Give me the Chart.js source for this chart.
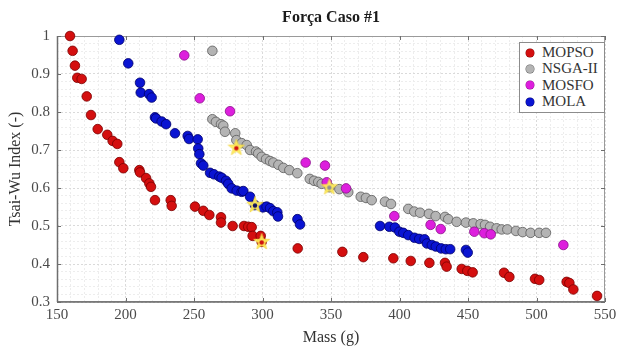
<!DOCTYPE html>
<html><head><meta charset="utf-8">
<script src="https://cdn.jsdelivr.net/npm/chart.js@4.4.1/dist/chart.umd.min.js"></script>
<style>
html,body{margin:0;padding:0;background:#fff;}
#wrap{position:relative;width:621px;height:347px;}
#legend{position:absolute;left:519px;top:42px;width:86px;height:71px;border:1px solid #8c8c8c;background:#fff;box-sizing:border-box;padding:1px 0 0 6px;font-family:"Liberation Serif",serif;font-size:15px;color:#333;}
#legend .row{height:16.4px;line-height:16.4px;white-space:nowrap;}
#legend .dot{display:inline-block;width:8px;height:8px;border-radius:50%;margin-right:8px;vertical-align:middle;position:relative;top:-1px;}
</style></head>
<body>
<div id="wrap">
  <canvas id="c" width="621" height="347"></canvas>
  <div id="legend"></div>
</div>
<script>
// Pareto fronts, force case #1: [mass (g), Tsai-Wu index]
const MOPSO = [[159.5,1.000],[161.4,0.961],[163.1,0.922],[164.8,0.890],[168.0,0.887],[171.7,0.841],[174.8,0.792],[179.7,0.755],
  [186.7,0.740],[190.6,0.724],[194.0,0.716],[195.5,0.668],[198.4,0.652],[210.1,0.647],[210.6,0.641],[215.0,0.626],[217.4,0.612],
  [218.6,0.603],[221.5,0.568],[233.0,0.568],[233.7,0.553],[250.7,0.551],[256.8,0.540],[261.2,0.529],[269.7,0.523],[269.7,0.509],
  [278.2,0.500],[286.5,0.500],[289.6,0.498],[292.1,0.497],[292.8,0.474],[298.7,0.474],[299.4,0.458],[325.7,0.441],[358.3,0.432],
  [373.6,0.418],[395.5,0.415],[408.2,0.408],[421.8,0.403],[433.2,0.403],[434.4,0.393],[445.4,0.387],[449.5,0.382],[453.4,0.378],
  [476.3,0.377],[480.2,0.366],[498.9,0.361],[502.0,0.358],[522.0,0.353],[524.0,0.350],[526.9,0.333],[544.2,0.316]];
const NSGA2 = [[263.4,0.961],[263.4,0.781],[266.0,0.774],[269.7,0.768],[271.4,0.764],[272.6,0.748],[280.1,0.744],[280.9,0.726],
  [284.8,0.718],[288.5,0.713],[290.9,0.700],[295.3,0.696],[296.9,0.691],[299.4,0.682],[302.6,0.676],[305.5,0.671],[307.9,0.667],
  [311.6,0.661],[315.2,0.653],[319.6,0.647],[325.4,0.639],[334.5,0.624],[337.6,0.619],[340.7,0.616],[343.2,0.611],[348.8,0.602],
  [356.1,0.597],[362.6,0.589],[371.7,0.577],[375.5,0.574],[379.7,0.568],[389.4,0.564],[393.8,0.558],[406.4,0.545],[410.8,0.538],
  [415.0,0.535],[421.5,0.532],[426.4,0.526],[433.2,0.524],[435.6,0.518],[441.7,0.511],[448.5,0.509],[453.9,0.507],[459.2,0.505],
  [462.4,0.503],[466.1,0.498],[470.9,0.494],[474.6,0.491],[478.7,0.491],[485.0,0.487],[489.9,0.484],[495.7,0.482],[502.0,0.482],
  [506.9,0.482]];
const MOSFO = [[242.9,0.949],[254.2,0.836],[276.3,0.802],[331.5,0.667],[345.6,0.659],[346.9,0.615],[361.0,0.599],[396.2,0.526],
  [422.7,0.503],[430.1,0.492],[454.6,0.485],[461.9,0.481],[466.6,0.478],[519.6,0.450]];
const MOLA = [[195.5,0.990],[202.0,0.928],[210.6,0.877],[211.1,0.851],[217.2,0.847],[219.1,0.838],[221.5,0.786],[222.3,0.783],
  [226.4,0.775],[229.6,0.768],[236.1,0.744],[245.4,0.737],[246.4,0.729],[252.7,0.728],[253.1,0.704],[253.9,0.689],[255.1,0.665],
  [256.8,0.659],[261.7,0.640],[264.6,0.636],[268.5,0.630],[270.2,0.627],[273.4,0.619],[275.0,0.611],[277.5,0.599],[281.2,0.593],
  [284.8,0.590],[286.0,0.592],[290.9,0.577],[294.5,0.555],[300.3,0.549],[303.0,0.551],[305.5,0.547],[307.9,0.539],[310.8,0.536],
  [311.3,0.525],[325.5,0.518],[327.4,0.504],[385.8,0.500],[392.6,0.498],[396.7,0.496],[399.9,0.485],[402.8,0.482],[406.4,0.476],
  [411.0,0.469],[414.4,0.466],[418.3,0.465],[420.0,0.454],[423.6,0.450],[426.5,0.446],[430.4,0.441],[433.8,0.439],[437.0,0.439],
  [448.5,0.437],[449.8,0.430]];
// highlighted (chosen) solutions
const PICKS = [[280.9,0.706],[294.5,0.555],[299.4,0.458],[348.8,0.602]];
const PICK_CORE = ['#d01010','#101060','#d01010','#909090'];

const X_LABELS = [150,200,250,300,350,400,450,500,550];
const Y_LABELS = [0.3,0.4,0.5,0.6,0.7,0.8,0.9,1];
const SERIES = [
  {name:'MOPSO',  pts:MOPSO, fill:'#d40f0f', edge:'#7a0000'},
  {name:'NSGA-II',pts:NSGA2, fill:'#b4b4b4', edge:'#5c5c5c'},
  {name:'MOSFO',  pts:MOSFO, fill:'#dd1fdd', edge:'#8a108a'},
  {name:'MOLA',   pts:MOLA,  fill:'#0a14d2', edge:'#00006a'},
];
const FONT = '"Liberation Serif", "DejaVu Serif", serif';

function starImg(core){
  const c=document.createElement('canvas'); c.width=18; c.height=18;
  const g=c.getContext('2d');
  g.beginPath();
  for(let i=0;i<10;i++){
    const r=i%2?3.6:8.6, a=-Math.PI/2+i*Math.PI/5;
    g.lineTo(9+r*Math.cos(a),9+r*Math.sin(a));
  }
  g.closePath();
  g.fillStyle='rgba(255,236,90,0.95)'; g.fill();
  g.strokeStyle='rgba(240,210,60,0.6)'; g.lineWidth=1; g.stroke();
  g.beginPath(); g.arc(9,9.5,2.2,0,Math.PI*2); g.fillStyle=core; g.fill();
  return c;
}

function near(v,list){ return list.some(t=>Math.abs(t-v)<1e-6); }

const datasets = SERIES.map((s,i)=>({
  label:s.name, data:s.pts.map(p=>({x:p[0],y:p[1]})),
  pointRadius:4.8, pointBackgroundColor:s.fill, pointBorderColor:s.edge, pointBorderWidth:0.8,
  order:4-i, clip:false
}));
datasets.push({label:'picks', data:PICKS.map(p=>({x:p[0],y:p[1]})),
  pointStyle:PICK_CORE.map(starImg), order:0, clip:false});

const framePlugin = {
  id:'frame',
  beforeDatasetsDraw(chart){
    const {ctx, chartArea:a, scales:{x,y}} = chart;
    ctx.save();
    ctx.strokeStyle='#9a9a9a'; ctx.lineWidth=1;
    ctx.strokeRect(a.left+0.5,a.top+0.5,a.right-a.left-1,a.bottom-a.top-1);
    ctx.strokeStyle='#6e6e6e'; ctx.lineWidth=1.5;
    ctx.beginPath(); ctx.moveTo(a.left,a.bottom); ctx.lineTo(a.right,a.bottom);
    ctx.moveTo(a.left+0.5,a.top); ctx.lineTo(a.left+0.5,a.bottom); ctx.stroke();
    ctx.strokeStyle='#6e6e6e'; ctx.lineWidth=1;
    ctx.beginPath();
    X_LABELS.forEach(v=>{const px=Math.round(x.getPixelForValue(v))+0.5;
      ctx.moveTo(px,a.bottom); ctx.lineTo(px,a.bottom-4); ctx.moveTo(px,a.top); ctx.lineTo(px,a.top+4);});
    Y_LABELS.forEach(v=>{const py=Math.round(y.getPixelForValue(v))+0.5;
      ctx.moveTo(a.left,py); ctx.lineTo(a.left+4,py); ctx.moveTo(a.right,py); ctx.lineTo(a.right-4,py);});
    ctx.stroke();
    ctx.restore();
  },
  afterDraw(chart){
    const {ctx, chartArea:a} = chart;
    ctx.save();
    ctx.font='bold 16px '+FONT; ctx.fillStyle='#1a1a1a';
    ctx.textAlign='center'; ctx.textBaseline='middle';
    ctx.fillText('Força Caso #1',(a.left+a.right)/2,18);
    ctx.restore();
  }
};

const gridColor = c => (c.tick && (near(c.tick.value,X_LABELS)||near(Math.round(c.tick.value*100)/100,Y_LABELS))) ? '#dadada' : '#ededed';

new Chart(document.getElementById('c'), {
  type:'scatter',
  data:{datasets},
  options:{
    responsive:false, animation:false, events:[],
    layout:{padding:{top:36,right:16,left:0,bottom:0}},
    plugins:{legend:{display:false},tooltip:{enabled:false},title:{display:false}},
    scales:{
      x:{type:'linear',min:150,max:550,
        afterFit(s){s.height=45;},
        ticks:{stepSize:10,autoSkip:false,maxRotation:0,padding:4,color:'#4a4a4a',font:{family:FONT,size:15},
          callback:v=>near(v,X_LABELS)?String(v):''},
        grid:{color:gridColor,drawTicks:false,lineWidth:1},
        border:{display:false,dash:[2,2]},
        title:{display:true,text:'Mass (g)',color:'#333',font:{family:FONT,size:16},padding:{top:0,bottom:0}}},
      y:{type:'linear',min:0.3,max:1,
        afterFit(s){s.width=57;},
        ticks:{stepSize:0.02,autoSkip:false,padding:7,color:'#4a4a4a',font:{family:FONT,size:15},
          callback:v=>{const r=Math.round(v*100)/100; return near(r,Y_LABELS)?String(r):'';}},
        grid:{color:gridColor,drawTicks:false,lineWidth:1},
        border:{display:false,dash:[2,2]},
        title:{display:true,text:'Tsai-Wu Index (-)',color:'#333',font:{family:FONT,size:16},padding:{top:6,bottom:0}}}
    }
  },
  plugins:[framePlugin]
});

document.getElementById('legend').innerHTML = SERIES.map(s=>
  `<div class="row"><span class="dot" style="background:${s.fill};box-shadow:0 0 0 0.5px ${s.edge}"></span>${s.name}</div>`).join('');
</script>
</body></html>
